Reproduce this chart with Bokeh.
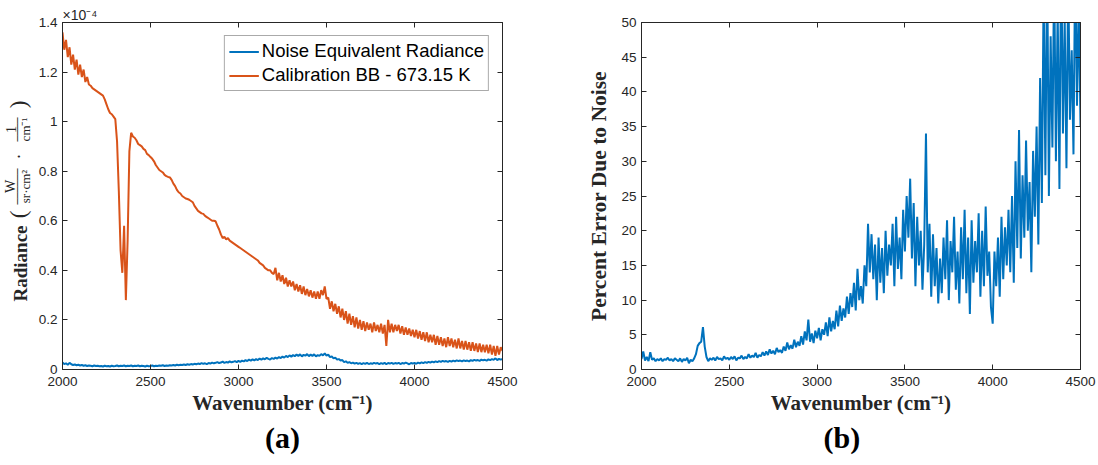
from bokeh.plotting import figure
from bokeh.models import LinearAxis, Range1d, Label, FixedTicker, CustomJSTickFormatter, Title
from bokeh.layouts import row
from bokeh.embed import file_html
from bokeh.resources import INLINE

# ---------------- data ----------------
wavenumber = list(range(2000, 4501, 10))

# Calibration blackbody radiance, units of 1e-4 W/(sr cm^2 cm^-1)
calibration_bb = [
    1.36, 1.29, 1.33, 1.26, 1.30, 1.23, 1.27, 1.21, 1.25, 1.19,
    1.23, 1.18, 1.21, 1.16, 1.18, 1.15, 1.145, 1.135, 1.13, 1.125,
    1.12, 1.115, 1.11, 1.105, 1.09, 1.07, 1.05, 1.035, 1.03, 1.02,
    1.01, 0.92, 0.72, 0.48, 0.39, 0.58, 0.28, 0.52, 0.88, 0.955,
    0.94, 0.935, 0.925, 0.91, 0.905, 0.90, 0.89, 0.885, 0.87, 0.865,
    0.857, 0.85, 0.84, 0.825, 0.815, 0.805, 0.80, 0.795, 0.785, 0.78,
    0.777, 0.775, 0.765, 0.75, 0.74, 0.725, 0.715, 0.71, 0.70, 0.695,
    0.69, 0.688, 0.685, 0.68, 0.675, 0.66, 0.65, 0.64, 0.635, 0.63,
    0.628, 0.62, 0.615, 0.61, 0.605, 0.60, 0.60, 0.598, 0.58, 0.565,
    0.545, 0.53, 0.535, 0.525, 0.53, 0.52, 0.515, 0.51, 0.505, 0.50,
    0.495, 0.49, 0.485, 0.48, 0.475, 0.47, 0.465, 0.46, 0.455, 0.45,
    0.445, 0.44, 0.43, 0.425, 0.42, 0.41, 0.405, 0.40, 0.40, 0.39,
    0.385, 0.41, 0.36, 0.39, 0.355, 0.38, 0.345, 0.37, 0.335, 0.36,
    0.335, 0.355, 0.32, 0.345, 0.315, 0.34, 0.305, 0.335, 0.30, 0.325,
    0.295, 0.32, 0.29, 0.315, 0.285, 0.315, 0.285, 0.32, 0.30, 0.335,
    0.285, 0.29, 0.245, 0.275, 0.235, 0.265, 0.225, 0.255, 0.21, 0.245,
    0.20, 0.235, 0.185, 0.225, 0.18, 0.215, 0.17, 0.21, 0.165, 0.20,
    0.16, 0.195, 0.155, 0.19, 0.16, 0.185, 0.15, 0.19, 0.155, 0.18,
    0.15, 0.185, 0.145, 0.18, 0.095, 0.20, 0.15, 0.185, 0.15, 0.18,
    0.155, 0.18, 0.145, 0.175, 0.14, 0.17, 0.14, 0.165, 0.135, 0.16,
    0.13, 0.16, 0.125, 0.155, 0.12, 0.15, 0.115, 0.15, 0.11, 0.14,
    0.11, 0.14, 0.10, 0.135, 0.10, 0.13, 0.095, 0.125, 0.09, 0.13,
    0.095, 0.125, 0.09, 0.12, 0.085, 0.125, 0.085, 0.115, 0.08, 0.115,
    0.08, 0.11, 0.075, 0.11, 0.075, 0.105, 0.07, 0.105, 0.07, 0.10,
    0.07, 0.10, 0.065, 0.10, 0.06, 0.095, 0.055, 0.095, 0.06, 0.09,
    0.075,
]

# Noise equivalent radiance, units of 1e-4
noise_equivalent = [
    0.028, 0.022, 0.025, 0.019, 0.027, 0.021, 0.018, 0.020, 0.017, 0.019,
    0.016, 0.018, 0.015, 0.017, 0.014, 0.016, 0.015, 0.013, 0.016, 0.014,
    0.015, 0.013, 0.014, 0.012, 0.015, 0.013, 0.014, 0.012, 0.015, 0.013,
    0.014, 0.016, 0.013, 0.015, 0.014, 0.016, 0.013, 0.015, 0.014, 0.016,
    0.013, 0.015, 0.014, 0.016, 0.013, 0.015, 0.014, 0.012, 0.015, 0.013,
    0.014, 0.016, 0.013, 0.015, 0.014, 0.016, 0.015, 0.017, 0.014, 0.016,
    0.015, 0.017, 0.016, 0.018, 0.016, 0.019, 0.017, 0.019, 0.018, 0.020,
    0.018, 0.021, 0.019, 0.022, 0.020, 0.023, 0.021, 0.024, 0.022, 0.026,
    0.023, 0.025, 0.022, 0.026, 0.024, 0.028, 0.025, 0.027, 0.030, 0.026,
    0.028, 0.032, 0.027, 0.030, 0.028, 0.033, 0.029, 0.031, 0.034, 0.030,
    0.035, 0.031, 0.036, 0.033, 0.038, 0.034, 0.040, 0.036, 0.041, 0.037,
    0.042, 0.038, 0.044, 0.040, 0.045, 0.041, 0.047, 0.043, 0.040, 0.046,
    0.043, 0.048, 0.044, 0.050, 0.046, 0.052, 0.048, 0.055, 0.050, 0.057,
    0.052, 0.058, 0.054, 0.060, 0.055, 0.061, 0.053, 0.059, 0.056, 0.062,
    0.054, 0.060, 0.055, 0.061, 0.053, 0.058, 0.055, 0.062, 0.057, 0.065,
    0.056, 0.060, 0.050, 0.053, 0.045, 0.048, 0.040, 0.042, 0.036, 0.038,
    0.030, 0.033, 0.027, 0.030, 0.025, 0.028, 0.024, 0.027, 0.023, 0.026,
    0.022, 0.026, 0.023, 0.027, 0.022, 0.025, 0.023, 0.027, 0.024, 0.026,
    0.022, 0.026, 0.023, 0.027, 0.021, 0.026, 0.024, 0.027, 0.023, 0.026,
    0.024, 0.027, 0.022, 0.026, 0.024, 0.028, 0.025, 0.021, 0.026, 0.024,
    0.027, 0.023, 0.028, 0.025, 0.029, 0.026, 0.030, 0.027, 0.031, 0.028,
    0.032, 0.029, 0.033, 0.030, 0.034, 0.031, 0.035, 0.032, 0.034, 0.031,
    0.035, 0.032, 0.036, 0.033, 0.037, 0.034, 0.036, 0.033, 0.037, 0.034,
    0.036, 0.033, 0.038, 0.035, 0.039, 0.036, 0.038, 0.035, 0.040, 0.037,
    0.039, 0.036, 0.041, 0.038, 0.042, 0.039, 0.045, 0.038, 0.043, 0.040,
    0.042,
]

# Percent error due to noise
percent_error = [
    1.5, 2.6, 1.3, 1.8, 1.2, 2.5, 1.4, 1.6, 1.2, 1.5,
    1.3, 1.6, 1.2, 1.5, 1.4, 1.7, 1.3, 1.5, 1.2, 1.6,
    1.4, 1.2, 1.6, 1.1, 1.5, 1.3, 1.7, 0.9, 1.4, 1.2,
    1.6, 2.2, 3.4, 3.8, 4.0, 6.1, 3.3, 1.8, 1.2, 1.6,
    1.4, 1.7, 1.3, 1.8, 1.5, 1.6, 1.3, 1.9, 1.5, 1.7,
    1.4, 1.8, 1.5, 1.9, 1.3, 1.7, 1.6, 2.0, 1.5, 1.8,
    1.6, 2.2, 1.7, 2.0, 1.8, 2.4, 1.7, 2.1, 1.9, 2.5,
    2.0, 2.6, 2.1, 2.9, 2.3, 2.7, 2.2, 3.1, 2.5, 2.8,
    2.4, 3.3, 2.7, 3.9, 2.9, 3.5, 3.0, 4.3, 3.2, 4.0,
    3.4, 4.8, 3.6, 5.5, 4.2, 7.2, 4.0, 5.2, 3.8, 5.6,
    4.5, 6.0, 4.2, 5.8, 5.0, 6.8, 4.8, 7.5, 5.5, 7.0,
    5.8, 8.5, 6.2, 9.2, 7.0, 8.8, 7.5, 10.5, 8.0, 11.0,
    9.0, 12.5, 8.5, 14.5, 10.0, 12.0, 9.5, 15.0, 12.0, 21.0,
    14.0, 19.5, 13.0, 18.0, 10.0, 19.0, 12.5, 17.5, 11.0, 20.0,
    13.5, 18.0, 15.0, 21.0, 12.0, 22.0, 14.5, 19.0, 13.0, 23.0,
    17.0, 25.0, 19.0, 27.5, 16.0, 24.0, 12.0, 22.0, 15.0, 20.0,
    11.5, 18.0, 34.0, 14.0, 21.0, 10.5, 19.5, 12.0, 17.5, 9.5,
    16.0, 11.0, 19.0, 13.0, 21.5, 10.0, 18.5, 14.0, 22.0, 11.5,
    17.0, 9.5, 20.5, 13.0, 23.0, 11.0, 19.0, 8.0, 21.5, 12.5,
    18.5, 14.0, 22.5, 10.5, 20.0, 12.0, 23.5, 13.5, 17.0, 9.0,
    6.6, 17.0, 12.0, 19.0, 10.5, 22.0, 13.0, 20.5, 15.0, 23.0,
    14.0, 25.0, 12.5, 30.0, 17.5, 34.5, 16.0, 28.0, 19.0, 33.0,
    20.0, 27.0, 14.0, 31.5, 22.0, 35.0, 18.0, 42.0, 24.0, 55.0,
    28.0, 60.0, 25.0, 48.0, 32.0, 58.0, 30.0, 52.0, 26.0, 62.0,
    34.0, 50.5, 29.0, 57.0, 36.0, 46.0, 31.0, 60.0, 38.0, 53.0,
    35.0,
]

x_ticks = [2000, 2500, 3000, 3500, 4000, 4500]
radiance_ticks = [0, 0.2, 0.4, 0.6, 0.8, 1.0, 1.2, 1.4]
percent_ticks = [0, 5, 10, 15, 20, 25, 30, 35, 40, 45, 50]

BLUE = "#0072BD"
ORANGE = "#D95319"
AX = "#262626"
SANS = "Liberation Sans"
SERIF = "Liberation Serif"


def make_fig(width, ml, mr, ymax, yticks):
    p = figure(width=width, height=465, output_backend="svg", toolbar_location=None,
               title=None,
               x_range=Range1d(2000, 4500), y_range=Range1d(0, ymax),
               min_border_left=ml, min_border_right=mr,
               min_border_top=22, min_border_bottom=96,
               background_fill_color="white", border_fill_color="white")
    p.grid.visible = False
    p.outline_line_color = AX
    p.outline_line_width = 1
    top = LinearAxis()
    right = LinearAxis()
    p.add_layout(top, "above")
    p.add_layout(right, "right")
    bottom = p.below[0]
    left = p.left[0]
    for ax in (bottom, top):
        ax.ticker = FixedTicker(ticks=x_ticks)
    for ax in (left, right):
        ax.ticker = FixedTicker(ticks=yticks)
    for ax in (bottom, top, left, right):
        ax.axis_line_color = AX
        ax.major_tick_line_color = AX
        ax.major_tick_in = 5
        ax.major_tick_out = 0
        ax.minor_tick_line_color = None
        ax.major_label_text_font = SANS
        ax.major_label_text_font_size = "13.5px"
        ax.major_label_text_color = AX
    for ax in (top, right):
        ax.major_label_text_font_size = "0px"
        ax.major_label_text_alpha = 0
        ax.major_label_standoff = 0
    bottom.major_label_standoff = 7
    left.major_label_standoff = 5
    bottom.axis_label = "Wavenumber (cm⁻¹)"
    bottom.axis_label_text_font = SERIF
    bottom.axis_label_text_font_style = "bold"
    bottom.axis_label_text_font_size = "21px"
    bottom.axis_label_text_color = AX
    bottom.axis_label_standoff = 2
    return p, bottom, left


def lab(p, x, y, text, size, font=SERIF, style="normal", angle=0.0, color=AX,
        align="center"):
    p.add_layout(Label(x=x, y=y, x_units="screen", y_units="screen", text=text,
                       text_font=font, text_font_size=size, text_font_style=style,
                       text_color=color, angle=angle, text_align=align,
                       text_baseline="middle"))


ROT = 1.5707963267948966
Y0 = 361  # strip frame baseline (measured)

# ---------------- y label strip for panel (a) ----------------
ylab = figure(width=34, height=465, output_backend="svg", toolbar_location=None,
              title=None, x_axis_type=None, y_axis_type=None,
              x_range=Range1d(0, 34), y_range=Range1d(0, 465),
              min_border=0, min_border_left=0, min_border_right=0,
              min_border_top=0, min_border_bottom=0,
              background_fill_color="white", border_fill_color="white")
ylab.grid.visible = False
ylab.outline_line_color = None
lab(ylab, 20, Y0 - 255, "Radiance", "19px", style="bold", angle=ROT)
lab(ylab, 18, Y0 - 206, "(", "23px", angle=ROT)
lab(ylab, 10, Y0 - 178, "W", "14px", angle=ROT)
lab(ylab, 17, Y0 - 178, "──────", "10px", font="DejaVu Sans Mono", angle=ROT)
lab(ylab, 25, Y0 - 178, "sr·cm²", "13px", angle=ROT)
lab(ylab, 18, Y0 - 148, "·", "18px", angle=ROT)
lab(ylab, 10, Y0 - 121, "1", "14px", angle=ROT)
lab(ylab, 17, Y0 - 121, "────", "10px", font="DejaVu Sans Mono", angle=ROT)
lab(ylab, 25, Y0 - 121, "cm⁻¹", "13px", angle=ROT)
lab(ylab, 18, Y0 - 96, ")", "23px", angle=ROT)

# ---------------- panel (a) ----------------
p1, b1, l1 = make_fig(515, 28, 47, 1.4, radiance_ticks)
l1.formatter = CustomJSTickFormatter(code="""
    if (Math.abs(tick) < 1e-9) return "0";
    if (Math.abs(tick - 1) < 1e-9) return "1";
    return tick.toFixed(1);
""")
p1.line(wavenumber, noise_equivalent, line_color=BLUE, line_width=2,
        legend_label="Noise Equivalent Radiance")
p1.line(wavenumber, calibration_bb, line_color=ORANGE, line_width=2,
        legend_label="Calibration BB - 673.15 K")
lg = p1.legend[0]
lg.location = "top_right"
lg.margin = 13
lg.padding = 4
lg.spacing = 2
lg.glyph_width = 30
lg.glyph_height = 21
lg.label_height = 21
lg.label_standoff = 3
lg.label_text_font = SANS
lg.label_text_font_size = "18.5px"
lg.label_text_color = "#000000"
lg.border_line_color = "#555555"
lg.border_line_width = 1
lg.background_fill_color = "white"
lg.background_fill_alpha = 1

p1.add_layout(Title(text="×10⁻⁴", align="left", offset=0, standoff=0,
                    text_font=SANS, text_font_size="14px",
                    text_font_style="normal", text_color=AX), "above")
p1.add_layout(Title(text="(a)", align="center", standoff=2,
                    text_font=SERIF, text_font_size="30px",
                    text_font_style="bold", text_color="#000000"), "below")

# ---------------- panel (b) ----------------
p2, b2, l2 = make_fig(549, 92, 18, 50, percent_ticks)
p2.line(wavenumber, percent_error, line_color=BLUE, line_width=2)
l2.axis_label = "Percent Error Due to Noise"
l2.axis_label_text_font = SERIF
l2.axis_label_text_font_style = "bold"
l2.axis_label_text_font_size = "21.5px"
l2.axis_label_text_color = AX
l2.axis_label_standoff = 7
p2.add_layout(Title(text="(b)", align="left", standoff=2, offset=182,
                    text_font=SERIF, text_font_size="30px",
                    text_font_style="bold", text_color="#000000"), "below")

layout = row(ylab, p1, p2)
open("out.html", "w").write(file_html(layout, INLINE))
